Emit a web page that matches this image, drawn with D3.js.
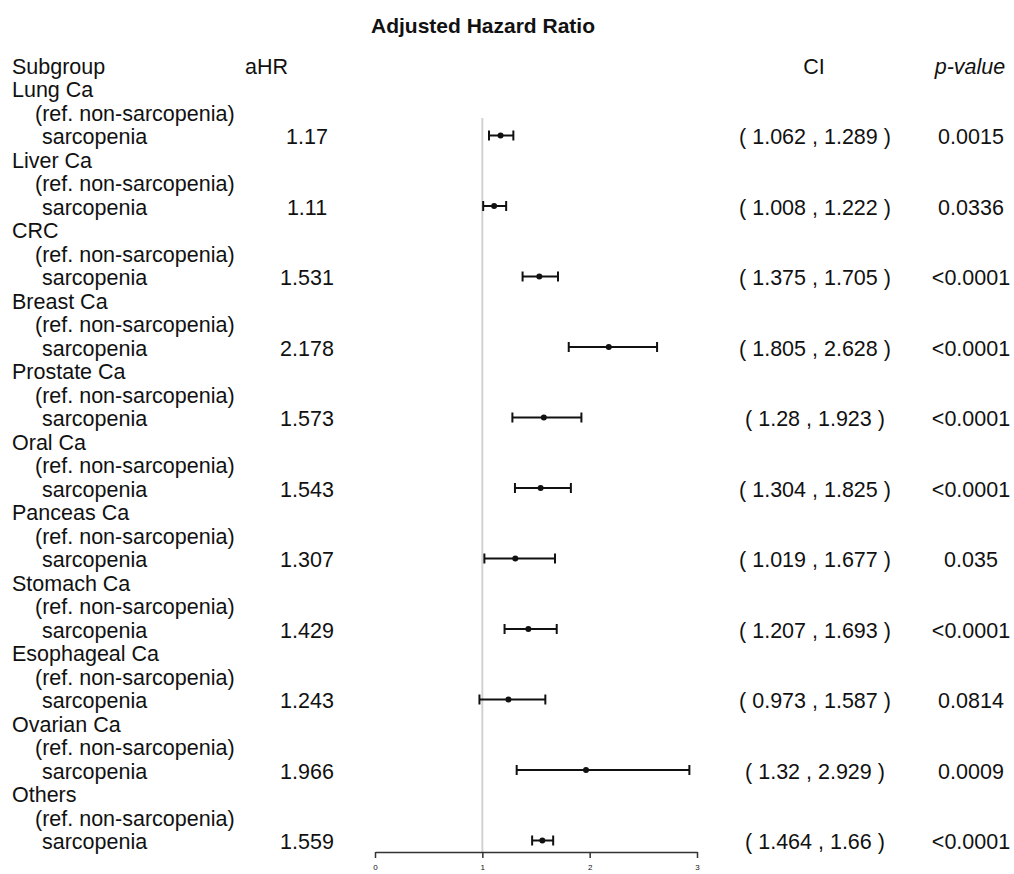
<!DOCTYPE html>
<html>
<head>
<meta charset="utf-8">
<script src="https://cdn.jsdelivr.net/npm/d3@7"></script>
<style>
  body { margin: 0; background: #fff; }
  text { font-family: "Liberation Sans", Arial, sans-serif; fill: #111; }
</style>
</head>
<body>
<div id="chart"></div>
<script>
// data
const subgroups = ['Lung Ca', 'Liver Ca', 'CRC', 'Breast Ca', 'Prostate Ca', 'Oral Ca',
    'Panceas Ca', 'Stomach Ca', 'Esophageal Ca', 'Ovarian Ca', 'Others'];
const ahr = [1.17, 1.11, 1.531, 2.178, 1.573, 1.543, 1.307, 1.429, 1.243, 1.966, 1.559];
const lower = [1.062, 1.008, 1.375, 1.805, 1.28, 1.304, 1.019, 1.207, 0.973, 1.32, 1.464];
const upper = [1.289, 1.222, 1.705, 2.628, 1.923, 1.825, 1.677, 1.693, 1.587, 2.929, 1.66];
const pValues = ['0.0015', '0.0336', '<0.0001', '<0.0001', '<0.0001', '<0.0001',
    '0.035', '<0.0001', '0.0814', '0.0009', '<0.0001'];
const xTicks = [0, 1, 2, 3];

const width = 1014;
const height = 874;

const rows = subgroups.map((name, i) => ({
    name: name, hr: ahr[i], lo: lower[i], hi: upper[i], p: pValues[i], i: i
}));

const svg = d3.select('#chart')
    .append('svg')
    .attr('width', width)
    .attr('height', height);

const x = d3.scaleLinear().domain([0, 3]).range([375, 697]);
// baseline of each "sarcopenia" row
const y = d3.scaleLinear().domain([0, rows.length - 1]).range([144, 849]);
const lineGap = 23.5;
const fs = 21.5;

// title
svg.append('text')
    .attr('x', 483)
    .attr('y', 33)
    .attr('text-anchor', 'middle')
    .attr('font-size', 21)
    .attr('font-weight', 'bold')
    .text('Adjusted Hazard Ratio');

// column headers
const headY = 74;
svg.append('text').attr('x', 12).attr('y', headY).attr('font-size', fs).text('Subgroup');
svg.append('text').attr('x', 245).attr('y', headY).attr('font-size', fs).text('aHR');
svg.append('text').attr('x', 814).attr('y', headY).attr('font-size', fs)
    .attr('text-anchor', 'middle').text('CI');
svg.append('text').attr('x', 970).attr('y', headY).attr('font-size', fs)
    .attr('text-anchor', 'middle').attr('font-style', 'italic').text('p-value');

// reference line at 1
svg.append('line')
    .attr('x1', x(1)).attr('x2', x(1))
    .attr('y1', 118).attr('y2', 852)
    .attr('stroke', '#d2d2d2')
    .attr('stroke-width', 2);

// row labels
const g = svg.selectAll('.row')
    .data(rows)
    .enter()
    .append('g')
    .attr('class', 'row');

g.append('text').attr('x', 12).attr('y', d => y(d.i) - 2 * lineGap)
    .attr('font-size', fs).text(d => d.name);
g.append('text').attr('x', 35).attr('y', d => y(d.i) - lineGap)
    .attr('font-size', fs).text('(ref. non-sarcopenia)');
g.append('text').attr('x', 42).attr('y', d => y(d.i))
    .attr('font-size', fs).text('sarcopenia');
g.append('text').attr('x', 307).attr('y', d => y(d.i))
    .attr('text-anchor', 'middle').attr('font-size', fs).text(d => String(d.hr));
g.append('text').attr('x', 815).attr('y', d => y(d.i))
    .attr('text-anchor', 'middle').attr('font-size', fs)
    .text(d => `( ${d.lo} , ${d.hi} )`);
g.append('text').attr('x', 971).attr('y', d => y(d.i))
    .attr('text-anchor', 'middle').attr('font-size', fs).text(d => d.p);

// error bars
const cy = d => y(d.i) - 8.5;
g.append('line')
    .attr('x1', d => x(d.lo)).attr('x2', d => x(d.hi))
    .attr('y1', cy).attr('y2', cy)
    .attr('stroke', '#111').attr('stroke-width', 2);
g.append('line')
    .attr('x1', d => x(d.lo)).attr('x2', d => x(d.lo))
    .attr('y1', d => cy(d) - 5).attr('y2', d => cy(d) + 5)
    .attr('stroke', '#111').attr('stroke-width', 2);
g.append('line')
    .attr('x1', d => x(d.hi)).attr('x2', d => x(d.hi))
    .attr('y1', d => cy(d) - 5).attr('y2', d => cy(d) + 5)
    .attr('stroke', '#111').attr('stroke-width', 2);
g.append('circle')
    .attr('cx', d => x(d.hr))
    .attr('cy', cy)
    .attr('r', 3)
    .attr('fill', '#111');

// x axis
const axis = svg.append('g')
    .attr('transform', 'translate(0,852)')
    .call(d3.axisBottom(x).tickValues(xTicks).tickFormat(d3.format('d')).tickSize(6).tickSizeOuter(0));
axis.select('.domain').attr('stroke', '#333').attr('stroke-width', 1.5);
axis.selectAll('.tick line').attr('stroke', '#333').attr('stroke-width', 1.5);
axis.selectAll('.tick text')
    .attr('font-size', 8)
    .attr('font-family', '"Liberation Sans", Arial, sans-serif')
    .attr('fill', '#444')
    .attr('y', 8)
    .attr('dy', '1.2em');
</script>
</body>
</html>
